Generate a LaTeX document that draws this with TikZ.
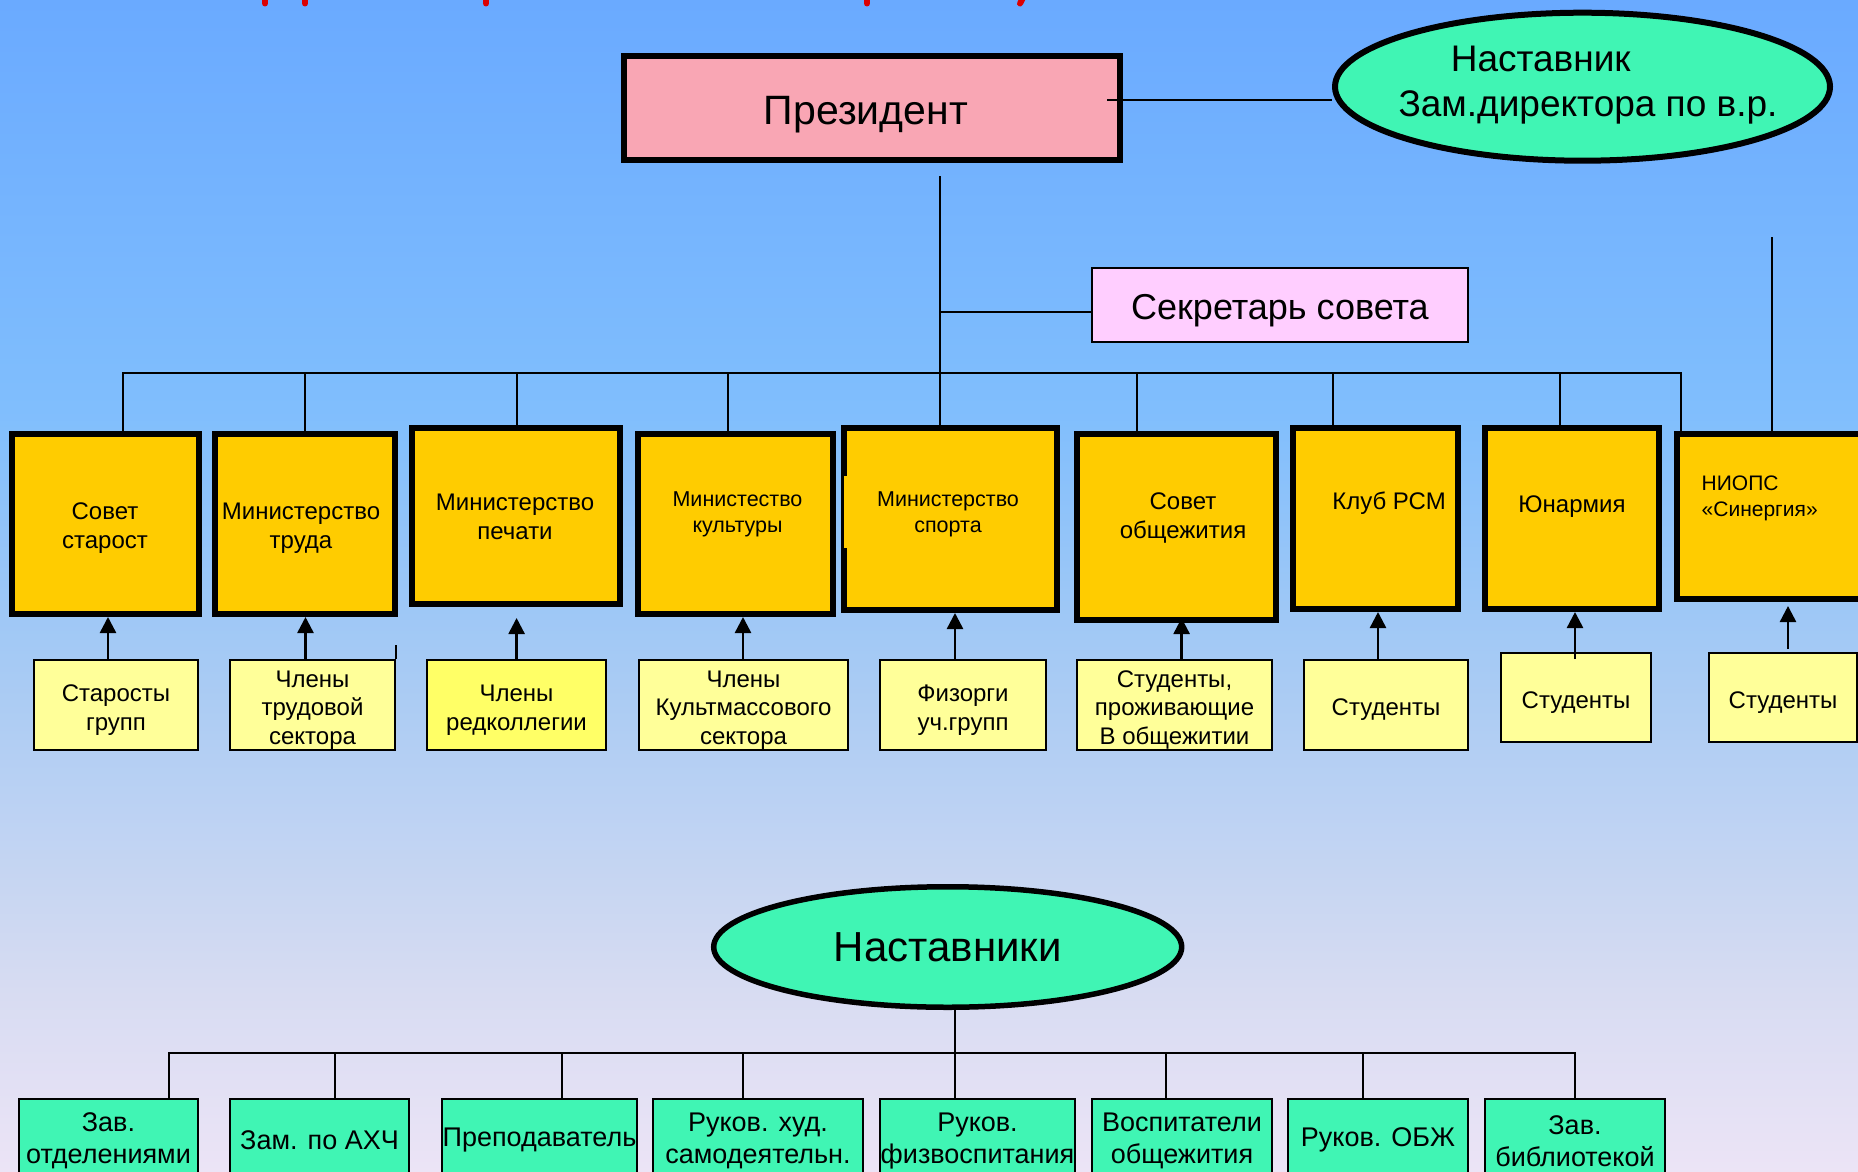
\documentclass[tikz,border=0pt]{standalone}
\usepackage{fontspec}
\setmainfont{Liberation Sans}
\usetikzlibrary{shapes.geometric,arrows.meta,calc}

\definecolor{bg0}{RGB}{106,170,255}
\definecolor{bg1}{RGB}{128,190,253}
\definecolor{bg2}{RGB}{172,204,243}
\definecolor{bg3}{RGB}{216,220,242}
\definecolor{bg4}{RGB}{236,228,246}
\definecolor{presfill}{RGB}{249,166,180}
\definecolor{mintfill}{RGB}{64,245,180}
\definecolor{secfill}{RGB}{255,206,255}
\definecolor{ministry}{RGB}{255,204,0}
\definecolor{member}{RGB}{255,255,153}
\definecolor{memberhi}{RGB}{255,255,102}
\definecolor{titlered}{RGB}{220,0,0}

\pgfdeclareverticalshading{bgshade}{100bp}{color(0bp)=(bg4); color(25bp)=(bg4); color(32.5bp)=(bg3); color(45bp)=(bg2); color(57.5bp)=(bg1); color(75bp)=(bg0); color(100bp)=(bg0)}

\tikzset{
  conn/.style={line width=2pt, draw=black},
  arr/.style={line width=2.5pt, draw=black, -{Triangle[width=16pt,length=16pt]}},
  minbox/.style={draw=black, line width=6pt, fill=ministry, inner sep=0pt},
  mintext/.style={align=center, inner sep=0pt, font=\fontsize{24}{29}\selectfont},
  mintextsm/.style={align=center, inner sep=0pt, font=\fontsize{21.5}{26}\selectfont},
  membox/.style={draw=black, line width=2pt, fill=member, inner sep=0pt, minimum height=90pt},
  memtext/.style={align=center, inner sep=0pt, font=\fontsize{24}{28.5}\selectfont},
  mentbox/.style={draw=black, line width=2pt, fill=mintfill, inner sep=0pt, minimum height=80pt},
  menttext/.style={align=center, inner sep=0pt, font=\fontsize{27}{31.5}\selectfont},
  redmark/.style={draw=titlered, line width=6pt, line cap=round}
}

\begin{document}
\begin{tikzpicture}[x=1pt,y=-1pt]
\useasboundingbox (0,0) rectangle (1858,1172);
\clip (0,0) rectangle (1858,1172);
\shade[shading=bgshade] (0,0) rectangle (1858,1172);

% fragments of the cut-off red title
\foreach \x in {265,305,486,867} \draw[redmark] (\x,-6) -- (\x,3.5);
\draw[redmark] (1025,-6) -- (1020,3.5);

% president and mentor
\node[draw=black, line width=6pt, fill=presfill, minimum width=496pt, minimum height=104pt, inner sep=0pt] (pres) at (872,108) {};
\node[anchor=base, inner sep=0pt, font=\fontsize{41}{48}\selectfont] (prest) at (866,124.5) {Президент};
\node[ellipse, draw=black, line width=6pt, fill=mintfill, minimum width=495pt, minimum height=148pt, inner sep=0pt] (ment) at (1582.5,86.7) {};
\node[anchor=base, inner sep=0pt, font=\fontsize{37}{40}\selectfont] (ment1) at (1540.7,71.7) {Наставник};
\node[anchor=base, inner sep=0pt, font=\fontsize{37}{40}\selectfont] (ment2) at (1588,116.5) {Зам.директора по в.р.};
\coordinate (pm) at (1107,100.3);
\draw[conn] (pm) -- (pm -| ment.west);

% secretary
\node[draw=black, line width=2pt, fill=secfill, minimum width=376pt, minimum height=74pt, inner sep=0pt] (sec) at (1280,304.7) {};
\node[anchor=base, inner sep=0pt, font=\fontsize{36}{40}\selectfont] (sect) at (1280,319) {Секретарь совета};

% ministry boxes
\node[minbox, minimum width=187pt, minimum height=180pt] (b1) at (105.5,524) {};
\node[minbox, minimum width=180pt, minimum height=180pt] (b2) at (305,524) {};
\node[minbox, minimum width=208pt, minimum height=176pt] (b3) at (516,516) {};
\node[minbox, minimum width=195pt, minimum height=180pt] (b4) at (735.5,524) {};
\node[minbox, minimum width=213pt, minimum height=182pt] (b5) at (950.5,519) {};
\node[minbox, minimum width=199pt, minimum height=186pt] (b6) at (1176.5,527) {};
\node[minbox, minimum width=165pt, minimum height=181pt] (b7) at (1375.5,518.5) {};
\node[minbox, minimum width=174pt, minimum height=181pt] (b8) at (1572,518.5) {};
\node[minbox, minimum width=220pt, minimum height=165pt] (b9) at (1787,516.5) {};
\fill[ministry] (844,476) rectangle (847.5,548);

\node[mintext] (t1) at (105,528.5) {Совет\\старост};
\node[mintext] (t2) at (301,528.5) {Министерство\\труда};
\node[mintext] (t3) at (515,517) {Министерство\\печати};
\node[mintextsm] (t4) at (737.5,514) {Министество\\культуры};
\node[mintextsm] (t5) at (948,514) {Министерство\\спорта};
\node[mintext] (t6) at (1183,518) {Совет\\общежития};
\node[mintext] (t7) at (1389,503) {Клуб РСМ};
\node[mintext] (t8) at (1572,507) {Юнармия};
\node[anchor=west, align=left, inner sep=0pt, font=\fontsize{21}{26}\selectfont] (t9) at (1701.5,498.5) {НИОПС\\«Синергия»};

% connectors of the council
\coordinate (ptop) at (940,176);
\draw[conn] (ptop) -- (ptop |- b5.north);
\coordinate (sj) at (940,312.3);
\draw[conn] (sj) -- (sj -| sec.west);
\draw[conn] (123,0 |- b1.north) -- (123,372.5) -- (1681,372.5) -- (1681,0 |- b9.north);
\foreach \x/\n in {305/b2, 516.6/b3, 728/b4, 1136.7/b6, 1332.8/b7, 1559.7/b8}
  \draw[conn] (\x,372.5) -- (\x,0 |- \n.north);
\coordinate (nio) at (1772,237);
\draw[conn] (nio) -- (nio |- b9.north);

% member boxes
\node[membox, minimum width=164pt] (s1) at (116,705) {};
\node[membox, minimum width=165pt] (s2) at (312.5,705) {};
\node[membox, minimum width=179pt, fill=memberhi] (s3) at (516.5,705) {};
\node[membox, minimum width=209pt] (s4) at (743.5,705) {};
\node[membox, minimum width=166pt] (s5) at (963,705) {};
\node[membox, minimum width=195pt] (s6) at (1174.5,705) {};
\node[membox, minimum width=164pt] (s7) at (1386,705) {};
\node[membox, minimum width=150pt, minimum height=89pt] (s8) at (1576,697.5) {};
\node[membox, minimum width=148pt, minimum height=89pt] (s9) at (1783,697.5) {};
\node[memtext] (ts1) at ([yshift=-5pt]s1.center) {Старосты\\групп};
\node[memtext] (ts2) at ([yshift=-5pt]s2.center) {Члены\\трудовой\\сектора};
\node[memtext] (ts3) at ([yshift=-5pt]s3.center) {Члены\\редколлегии};
\node[memtext] (ts4) at ([yshift=-5pt]s4.center) {Члены\\Культмассового\\сектора};
\node[memtext] (ts5) at ([yshift=-5pt]s5.center) {Физорги\\уч.групп};
\node[memtext] (ts6) at ([yshift=-5pt]s6.center) {Студенты,\\проживающие\\В общежитии};
\node[memtext] (ts7) at ([yshift=-5pt]s7.center) {Студенты};
\node[memtext] (ts8) at ([yshift=-5pt]s8.center) {Студенты};
\node[memtext] (ts9) at ([yshift=-5pt]s9.center) {Студенты};
\draw[conn] (s2.north east) -- ++(0,-14);

% arrows
\draw[arr] (108,0 |- s1.north) -- (108,0 |- b1.south);
\draw[arr] (305.5,0 |- s2.north) -- (305.5,0 |- b2.south);
\draw[arr, shorten >=11pt] (516.6,0 |- s3.north) -- (516.6,0 |- b3.south);
\draw[arr] (743,0 |- s4.north) -- (743,0 |- b4.south);
\draw[arr] (955,0 |- s5.north) -- (955,0 |- b5.south);
\draw[arr, shorten >=-5pt] (1181.6,0 |- s6.north) -- (1181.6,0 |- b6.south);
\draw[arr] (1378,0 |- s7.north) -- (1378,0 |- b7.south);
\draw[arr, shorten <=-7pt] (1575,0 |- s8.north) -- (1575,0 |- b8.south);
\draw[arr, shorten <=3pt, shorten >=4pt] (1788,0 |- s9.north) -- (1788,0 |- b9.south);

% mentors
\node[ellipse, draw=black, line width=5.5pt, fill=mintfill, minimum width=468pt, minimum height=120.5pt, inner sep=0pt, font=\fontsize{42}{46}\selectfont] (nast) at (947.7,947) {Наставники};

\node[mentbox, minimum width=179pt] (g1) at (108.5,1139) {};
\node[mentbox, minimum width=179pt] (g2) at (319.5,1139) {};
\node[mentbox, minimum width=195pt] (g3) at (539.5,1139) {};
\node[mentbox, minimum width=210pt] (g4) at (758,1139) {};
\node[mentbox, minimum width=195pt] (g5) at (977.5,1139) {};
\node[mentbox, minimum width=180pt] (g6) at (1182,1139) {};
\node[mentbox, minimum width=180pt] (g7) at (1378,1139) {};
\node[mentbox, minimum width=180pt] (g8) at (1575,1139) {};
\node[menttext] (tg1) at ([yshift=-2pt]g1.center) {Зав.\\отделениями};
\node[menttext] (tg2) at ([yshift=-1pt]g2.center) {Зам. по АХЧ};
\node[menttext] (tg3) at ([yshift=-1pt]g3.center) {Преподаватель};
\node[menttext] (tg4) at ([yshift=-2pt]g4.center) {Руков. худ.\\самодеятельн.};
\node[menttext] (tg5) at ([yshift=-2pt]g5.center) {Руков.\\физвоспитания};
\node[menttext] (tg6) at ([yshift=-2pt]g6.center) {Воспитатели\\общежития};
\node[menttext] (tg7) at ([yshift=-1pt]g7.center) {Руков. ОБЖ};
\node[menttext] (tg8) at ([yshift=-2pt]g8.center) {Зав.\\библиотекой};

\draw[conn] (955,0 |- nast.south) -- (955,0 |- g5.north);
\draw[conn] (169,0 |- g1.north) -- (169,1052.7) -- (1574.5,1052.7) -- (1574.5,0 |- g8.north);
\foreach \x/\n in {335/g2, 562/g3, 742.6/g4, 1166/g6, 1363/g7}
  \draw[conn] (\x,1052.7) -- (\x,0 |- \n.north);
\end{tikzpicture}
\end{document}
